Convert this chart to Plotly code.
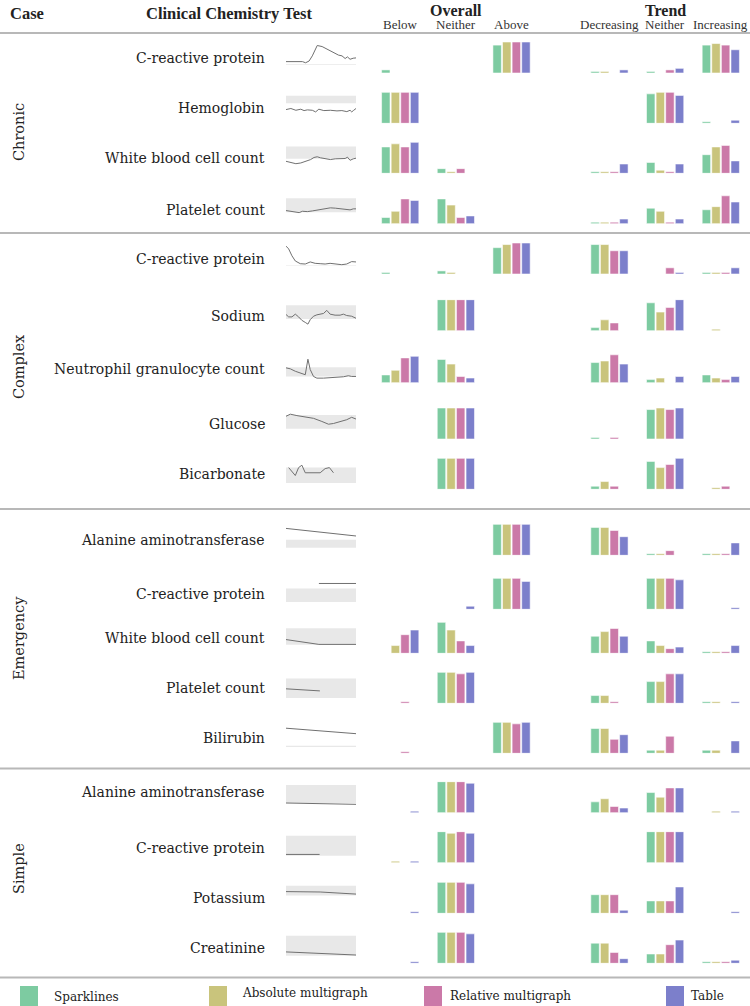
import plotly.graph_objects as go

W, H = 750, 1006
FONT = "DejaVu Serif"
HEAD_FONT = "Liberation Serif"

case_names = ["Chronic", "Complex", "Emergency", "Simple"]
case_rows = [4, 5, 5, 4]
tests = [
    "C-reactive protein", "Hemoglobin", "White blood cell count", "Platelet count",
    "C-reactive protein", "Sodium", "Neutrophil granulocyte count", "Glucose", "Bicarbonate",
    "Alanine aminotransferase", "C-reactive protein", "White blood cell count", "Platelet count", "Bilirubin",
    "Alanine aminotransferase", "C-reactive protein", "Potassium", "Creatinine",
]
overall_cats = ["Below", "Neither", "Above"]
trend_cats = ["Decreasing", "Neither", "Increasing"]
techniques = ["Sparklines", "Absolute multigraph", "Relative multigraph", "Table"]
colors = ["#7dcba1", "#c9c47c", "#cb79a8", "#7c7fcb"]

# % of answers per test: Below, Neither, Above | Decreasing, Neither, Increasing
sparklines_pct = [
    [10, 0, 90, 5, 5, 90], [100, 0, 0, 0, 95, 5], [85, 15, 0, 5, 35, 60], [20, 80, 0, 5, 50, 45],
    [5, 10, 85, 95, 0, 5], [0, 100, 0, 10, 90, 0], [25, 75, 0, 65, 10, 25], [0, 100, 0, 5, 95, 0], [0, 100, 0, 10, 90, 0],
    [0, 0, 100, 90, 5, 5], [0, 0, 100, 0, 100, 0], [0, 100, 0, 55, 40, 5], [0, 100, 0, 25, 70, 5], [0, 0, 100, 80, 10, 10],
    [0, 100, 0, 35, 65, 0], [0, 100, 0, 0, 100, 0], [0, 100, 0, 60, 40, 0], [0, 100, 0, 65, 30, 5],
]
absolute_pct = [
    [0, 0, 100, 5, 0, 95], [100, 0, 0, 0, 100, 0], [95, 5, 0, 5, 10, 85], [40, 60, 0, 5, 40, 55],
    [0, 5, 95, 95, 0, 5], [0, 100, 0, 35, 60, 5], [40, 60, 0, 70, 15, 15], [0, 100, 0, 0, 100, 0], [0, 100, 0, 25, 70, 5],
    [0, 0, 100, 90, 5, 5], [0, 0, 100, 0, 100, 0], [25, 75, 0, 70, 25, 5], [0, 100, 0, 25, 70, 5], [0, 0, 100, 80, 10, 10],
    [0, 100, 0, 45, 50, 5], [5, 95, 0, 0, 100, 0], [0, 100, 0, 60, 40, 0], [0, 100, 0, 65, 30, 5],
]
relative_pct = [
    [0, 0, 100, 0, 10, 90], [100, 0, 0, 0, 100, 0], [85, 15, 0, 5, 5, 90], [80, 20, 0, 5, 5, 90],
    [0, 0, 100, 75, 20, 5], [0, 100, 0, 25, 75, 0], [80, 20, 0, 90, 0, 10], [0, 100, 0, 5, 95, 0], [0, 100, 0, 10, 80, 10],
    [0, 0, 100, 80, 15, 5], [0, 0, 100, 0, 100, 0], [60, 40, 0, 80, 15, 5], [5, 95, 0, 5, 95, 0], [5, 0, 95, 45, 55, 0],
    [0, 100, 0, 20, 80, 0], [0, 100, 0, 0, 100, 0], [0, 100, 0, 60, 40, 0], [0, 100, 0, 35, 60, 5],
]
table_pct = [
    [0, 0, 100, 10, 15, 75], [100, 0, 0, 0, 90, 10], [100, 0, 0, 30, 30, 40], [75, 25, 0, 15, 15, 70],
    [0, 0, 100, 75, 5, 20], [0, 100, 0, 0, 100, 0], [85, 15, 0, 60, 20, 20], [0, 100, 0, 0, 100, 0], [0, 100, 0, 0, 100, 0],
    [0, 0, 100, 60, 0, 40], [0, 10, 90, 0, 95, 5], [75, 25, 0, 55, 20, 25], [0, 100, 0, 0, 95, 5], [0, 0, 100, 60, 0, 40],
    [5, 95, 0, 15, 80, 5], [5, 95, 0, 0, 100, 0], [5, 95, 0, 10, 85, 5], [5, 95, 0, 15, 75, 10],
]

# sparkline series, scaled 0-100 in their own box (time as % of window)
spark_x = [
    [0, 23.5, 28, 33, 37.6, 44.6, 51.6, 58.7, 68, 75, 80, 84.5, 87.8, 91.5, 96, 100],
    [0, 7, 14.1, 21.1, 25.8, 30.5, 37.6, 42.3, 46.9, 54, 63.4, 72.8, 79.8, 86.9, 91.5, 93.9, 96.2, 100],
    [0, 7, 14.1, 21.1, 28.2, 35.2, 39.9, 44.6, 49.3, 56.3, 63.4, 70.4, 77.5, 84.5, 87.8, 91.5, 96.2, 100],
    [0, 7, 14.1, 18.8, 23.5, 30.5, 37.6, 44.6, 51.6, 58.7, 63.4, 70.4, 77.5, 84.5, 91.5, 96.2, 100],
    [0, 3.8, 8.5, 13.3, 20.4, 27.5, 34.6, 41.7, 48.8, 55.9, 63, 70.1, 79.6, 86.7, 93.8, 100],
    [0, 3.8, 8.5, 13.3, 18, 22.7, 27.5, 31.3, 34.6, 39.3, 44.1, 48.8, 53.6, 58.3, 63, 70.1, 77.3, 82, 86.7, 93.8, 100],
    [0, 6.2, 13.3, 20.4, 27.5, 31.3, 34.6, 39.3, 44.1, 53.6, 63, 72.5, 82, 89.1, 93.8, 100],
    [0, 6.2, 15.6, 25.1, 39.3, 51.2, 60.7, 67.8, 77.3, 86.7, 93.8, 100],
    [3.8, 8.5, 13.3, 18, 22.7, 27.5, 34.6, 41.7, 48.8, 55.9, 62, 67.8],
    [0, 49.3, 100],
    [47, 100],
    [0, 47, 100],
    [0, 48.4],
    [0, 49.3, 100],
    [0, 100],
    [0, 48],
    [0, 48.8, 100],
    [0, 48.8, 100],
]
spark_y = [
    [36.7, 36.7, 33, 38.7, 55.3, 88.7, 85.3, 77.7, 66.7, 57.7, 55.3, 46.7, 52, 44.3, 47.7, 48.7],
    [44.3, 47.7, 42, 45.5, 41, 43.3, 42, 36.7, 45.5, 41, 42, 40, 41, 37.7, 42, 36.7, 41, 47.7],
    [38.7, 35.5, 31, 33.3, 37.7, 44.3, 51, 53.3, 50, 46.7, 44.3, 46.7, 46.7, 47.7, 52, 42, 46.7, 48.7],
    [42.4, 40.1, 39, 35.7, 40.1, 39, 41.2, 43.5, 45.7, 47.9, 51.2, 50.1, 49, 47.9, 44.6, 47.9, 47.9],
    [90, 81, 58.7, 42, 33.3, 32.2, 38.9, 34.4, 33.3, 32.2, 34.4, 32.2, 30, 32.2, 40, 38.9],
    [52.3, 44.5, 44.5, 53.4, 44.5, 33.4, 26.7, 21.2, 35.6, 46.7, 51.2, 52.3, 55.6, 65.6, 53.4, 50.1, 50.1, 53.4, 49, 46.7, 40.1],
    [48, 44.7, 36.9, 31.4, 25.7, 75.7, 42.4, 20.2, 14.7, 14.7, 15.7, 19.1, 19.1, 22.5, 20.2, 20.2],
    [73.3, 80, 75.5, 72.2, 66.7, 56.6, 47.7, 50, 55.5, 62.2, 70, 64.4],
    [70, 55.5, 44.4, 70, 77.7, 53.3, 53.3, 53.3, 53.3, 66.7, 70, 53.3],
    [86.7, 74.4, 62.3],
    [83.3, 83.3],
    [44.3, 28.7, 28.7],
    [46.7, 40],
    [81, 72.2, 63.3],
    [31.3, 27],
    [26.7, 26.7],
    [70, 68.7, 62],
    [36.7, 31, 26.7],
]
ref_low = [27, 64.3, 46.7, 36.7, 26, 38, 20.2, 33.3, 20, 24.4, 23.3, 27.7, 16.7, 20, 31.3, 22.3, 57.7, 24.4]
ref_high = [29, 88.7, 86.7, 82.4, 27.5, 82.3, 50.2, 77.7, 70, 50, 66.7, 81, 80, 24, 89, 86.7, 88.7, 88.7]

# layout (pixels from the top of the page)
row_base = [73, 123.3, 173.3, 223.7, 274, 330.7, 382.7, 439, 489.3, 555.3, 609.3, 653.3, 703.3, 753.3,
            812.7, 862.7, 913.3, 963.3]
row_label_y = [58.3, 108.3, 158.3, 210, 259.3, 315.7, 369.3, 424.3, 474.3, 540, 594.3, 638.3, 688.3, 738.3,
               792.3, 847.7, 898.3, 948.3]
case_label_y = [132, 367, 638, 869]
rule_y = [33, 233, 509, 768.5, 977.5]
group_pos = [0, 5.8, 11.6, 21.8, 27.6, 33.4]
BAR_H = 31


def px(x):
    return x / W


def py(y):
    return 1 - y / H


all_pct = [sparklines_pct, absolute_pct, relative_pct, table_pct]

fig = go.Figure()
layout = dict(
    xaxis=dict(domain=[px(286), px(356)], range=[0, 100], visible=False, fixedrange=True),
    xaxis2=dict(domain=[px(381), px(740)], range=[-0.5, 36.9], visible=False, fixedrange=True),
)
shapes = []
annotations = []

for i, name in enumerate(tests):
    yname = "y" if i == 0 else f"y{i + 1}"
    layout["yaxis" if i == 0 else f"yaxis{i + 1}"] = dict(
        domain=[py(row_base[i]), py(row_base[i] - BAR_H)], range=[0, 100],
        visible=False, fixedrange=True, anchor="x",
    )
    # reference range band + sparkline
    shapes.append(dict(type="rect", xref="x", yref=yname, x0=0, x1=100, y0=ref_low[i], y1=ref_high[i],
                       fillcolor="#e8e8e8", line=dict(width=0), layer="below"))
    fig.add_trace(go.Scatter(x=spark_x[i], y=spark_y[i], mode="lines", xaxis="x", yaxis=yname,
                             line=dict(color="#707070", width=1), hoverinfo="skip", showlegend=False))
    # bars
    for t, tech in enumerate(techniques):
        vals = [v if v > 0 else None for v in all_pct[t][i]]
        fig.add_trace(go.Bar(
            x=[g + t for g in group_pos], y=vals, width=0.88, xaxis="x2", yaxis=yname,
            marker=dict(color=colors[t], line=dict(color="rgba(255,255,255,0.55)", width=1)),
            name=tech, showlegend=False,
            hovertemplate=f"{name}<br>{tech}: %{{y}}%<extra></extra>",
        ))
    annotations.append(dict(text=name, x=px(267), y=py(row_label_y[i]), xref="paper", yref="paper",
                            xanchor="right", yanchor="middle", showarrow=False,
                            font=dict(size=14, color="#222")))

for c, cname in enumerate(case_names):
    annotations.append(dict(text=cname, x=px(19), y=py(case_label_y[c]), xref="paper", yref="paper",
                            textangle=-90, xanchor="center", yanchor="middle", showarrow=False,
                            font=dict(size=14.5, color="#222")))

# headers
for text, x in [("Case", 8), ("Clinical Chemistry Test", 144)]:
    annotations.append(dict(text=f"<b>{text}</b>", x=px(x), y=py(14), xref="paper", yref="paper",
                            xanchor="left", yanchor="middle", showarrow=False,
                            font=dict(size=16.5, color="#222", family=HEAD_FONT)))

for text, xc in [("Overall", (group_pos[0] + group_pos[2] + 3) / 2), ("Trend", (group_pos[3] + group_pos[5] + 3) / 2)]:
    annotations.append(dict(text=f"<b>{text}</b>", x=xc, y=py(10), xref="x2", yref="paper",
                            xanchor="center", yanchor="middle", showarrow=False,
                            font=dict(size=16, color="#222", family=HEAD_FONT)))
for g, label in enumerate(overall_cats + trend_cats):
    annotations.append(dict(text=label, x=group_pos[g] + 1.5, y=py(24.5), xref="x2", yref="paper",
                            xanchor="center", yanchor="middle", showarrow=False,
                            font=dict(size=13, color="#333", family=HEAD_FONT)))

for y in rule_y:
    shapes.append(dict(type="line", xref="paper", yref="paper", x0=0, x1=1, y0=py(y), y1=py(y),
                       line=dict(color="#b8b8b8", width=2)))

# legend
legend_sq = [20, 209, 424, 666]
legend_tx = [52, 240, 448, 689]
legend_ty = [997, 993, 996, 996]
for t, tech in enumerate(techniques):
    shapes.append(dict(type="rect", xref="paper", yref="paper", x0=px(legend_sq[t]), x1=px(legend_sq[t] + 18),
                       y0=py(1006), y1=py(986), fillcolor=colors[t], line=dict(width=0)))
    annotations.append(dict(text=tech, x=px(legend_tx[t]), y=py(legend_ty[t]), xref="paper", yref="paper",
                            xanchor="left", yanchor="middle", showarrow=False,
                            font=dict(size=12, color="#222")))

fig.update_layout(
    **layout,
    shapes=shapes,
    annotations=annotations,
    width=W, height=H,
    margin=dict(l=0, r=0, t=0, b=0),
    paper_bgcolor="white", plot_bgcolor="white",
    font=dict(family=FONT, color="#222"),
    barmode="overlay",
    showlegend=False,
)

fig.write_html("out.html", config={"displayModeBar": False},
               post_script="document.body.style.margin='0';document.body.style.overflow='hidden';")
